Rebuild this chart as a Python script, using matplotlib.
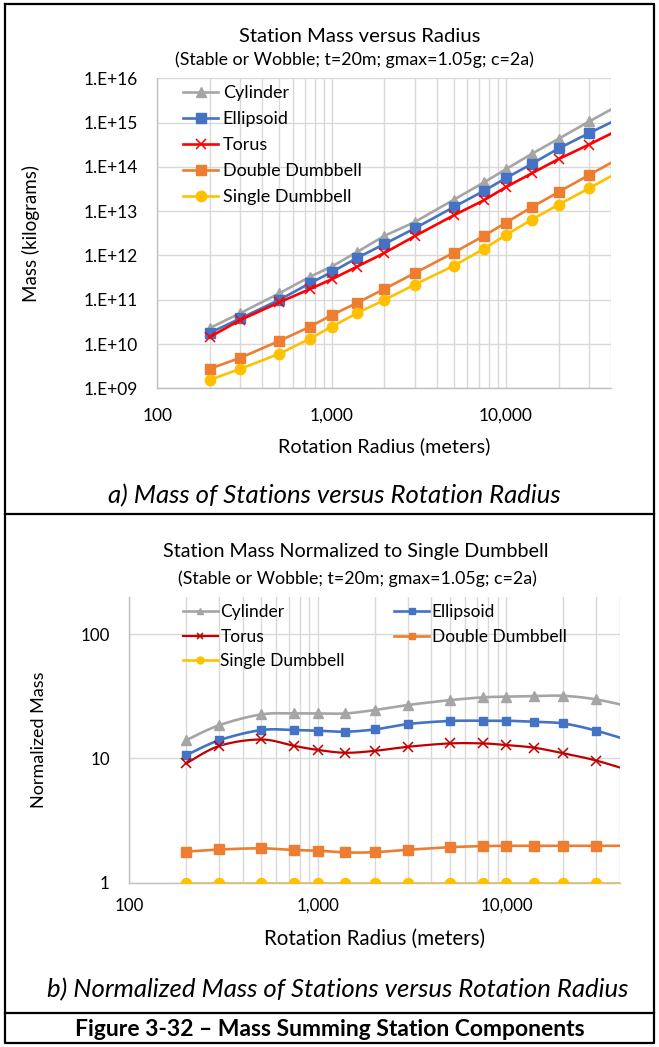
import numpy as np
import matplotlib
matplotlib.use("Agg")
import matplotlib.pyplot as plt
from matplotlib.ticker import FixedLocator, FuncFormatter, NullLocator
from matplotlib.lines import Line2D

# ---- data -------------------------------------------------------------
radius_m = [200, 300, 500, 750, 1000, 1400, 2000, 3000, 5000, 7500,
            10000, 14000, 20000, 30000, 50000]

series_names = ["Cylinder", "Ellipsoid", "Torus", "Double Dumbbell", "Single Dumbbell"]

mass_cylinder = [2.3e10, 5.0e10, 1.39e11, 3.3e11, 5.6e11, 1.2e12, 2.75e12, 5.7e12,
                 1.8e13, 4.5e13, 8.9e13, 1.95e14, 4.3e14, 1.06e15, 3.2e15]
mass_ellipsoid = [1.78e10, 3.8e10, 9.9e10, 2.35e11, 4.2e11, 8.8e11, 1.8e12, 4.1e12,
                  1.23e13, 2.9e13, 5.6e13, 1.16e14, 2.6e14, 5.8e14, 1.55e15]
mass_torus = [1.44e10, 3.5e10, 8.7e10, 1.74e11, 2.9e11, 5.6e11, 1.13e12, 2.74e12,
              8.0e12, 1.78e13, 3.5e13, 7.1e13, 1.5e14, 3.2e14, 8.7e14]
mass_double = [2.76e9, 4.9e9, 1.17e10, 2.45e10, 4.5e10, 8.5e10, 1.74e11, 4.0e11,
               1.15e12, 2.8e12, 5.5e12, 1.22e13, 2.7e13, 6.6e13, 2.0e14]
mass_single = [1.55e9, 2.76e9, 6.0e9, 1.32e10, 2.45e10, 5.0e10, 9.8e10, 2.2e11,
               5.8e11, 1.42e12, 2.9e12, 6.4e12, 1.4e13, 3.3e13, 1.0e14]

norm_cylinder = [14.0, 18.5, 22.6, 23.0, 23.0, 23.0, 24.5, 26.9, 29.4, 31.0,
                 31.4, 31.7, 31.9, 29.8, 25.2]
norm_ellipsoid = [10.6, 14.0, 16.9, 16.9, 16.7, 16.4, 17.1, 18.9, 20.0, 20.1,
                  20.1, 19.7, 19.1, 16.7, 13.2]
norm_torus = [9.1, 12.6, 14.2, 12.6, 11.7, 11.1, 11.5, 12.4, 13.2, 13.2,
              12.8, 12.2, 11.0, 9.6, 7.6]
norm_double = [1.78, 1.85, 1.89, 1.83, 1.81, 1.75, 1.76, 1.84, 1.93, 1.97,
               1.98, 1.98, 1.98, 1.98, 1.98]
norm_single = [1.0, 1.0, 1.0, 1.0, 1.0, 1.0, 1.0, 1.0, 1.0, 1.0,
               1.0, 1.0, 1.0, 1.0, 1.0]

x_major = [100, 1000, 10000]
x_minor = [200, 300, 400, 500, 600, 700, 800, 900,
           2000, 3000, 4000, 5000, 6000, 7000, 8000, 9000,
           20000, 30000, 40000]
mass_ticks = [1e9, 1e10, 1e11, 1e12, 1e13, 1e14, 1e15, 1e16]
norm_ticks = [1, 10, 100]

# ---- styling ----------------------------------------------------------
FONT = "Lato"
plt.rcParams["font.family"] = [FONT, "DejaVu Sans"]
GRID = "#D9D9D9"
AXIS = "#BFBFBF"

styles_top = [
    dict(color="#A5A5A5", marker="^", ms=7.5),
    dict(color="#4472C4", marker="s", ms=7.0),
    dict(color="#FF0000", marker="x", ms=7.0, mew=1.1),
    dict(color="#ED7D31", marker="s", ms=7.0),
    dict(color="#FFC000", marker="o", ms=7.5),
]
styles_bot = [
    dict(color="#A5A5A5", marker="^", ms=6.5),
    dict(color="#4472C4", marker="s", ms=6.0),
    dict(color="#C00000", marker="x", ms=6.5, mew=1.1),
    dict(color="#ED7D31", marker="s", ms=7.0),
    dict(color="#FFC000", marker="o", ms=7.2),
]

W, H = 659, 1047
fig = plt.figure(figsize=(W / 100, H / 100), dpi=100)
fig.patch.set_facecolor("white")


def fx(px):
    return px / W


def fy(py):
    return 1 - py / H


def axes_px(left, top, right, bottom):
    return fig.add_axes([fx(left), fy(bottom), (right - left) / W, (bottom - top) / H])


def smooth_loglog(x, y, n=24):
    """Bezier smoothing through the points in log-log space."""
    pts = np.column_stack([np.log10(x), np.log10(y)])
    P = np.vstack([pts[0], pts, pts[-1]])
    segs = []
    t = np.linspace(0, 1, n, endpoint=False)[:, None]
    for i in range(1, len(P) - 2):
        p0, p1, p2, p3 = P[i - 1], P[i], P[i + 1], P[i + 2]
        c1 = p1 + (p2 - p0) / 6
        c2 = p2 - (p3 - p1) / 6
        segs.append((1 - t) ** 3 * p1 + 3 * (1 - t) ** 2 * t * c1
                    + 3 * (1 - t) * t ** 2 * c2 + t ** 3 * p2)
    segs.append(pts[-1:])
    arr = np.vstack(segs)
    return 10 ** arr[:, 0], 10 ** arr[:, 1]


def style_axes(ax, tick_fs):
    ax.set_xscale("log")
    ax.set_yscale("log")
    ax.set_xlim(100, 40000)
    ax.xaxis.set_major_locator(FixedLocator(x_major))
    ax.xaxis.set_minor_locator(FixedLocator(x_minor))
    ax.xaxis.set_major_formatter(FuncFormatter(lambda v, _: f"{v:,.0f}"))
    ax.yaxis.set_minor_locator(NullLocator())
    ax.grid(which="both", axis="x", color=GRID, lw=1.0)
    ax.grid(which="major", axis="y", color=GRID, lw=1.0)
    ax.set_axisbelow(True)
    for s in ("top", "right"):
        ax.spines[s].set_visible(False)
    for s in ("left", "bottom"):
        ax.spines[s].set_color(AXIS)
        ax.spines[s].set_linewidth(1.0)
    ax.tick_params(which="both", length=0, labelsize=tick_fs, labelcolor="black")
    ax.set_facecolor("white")


# ---- chart a: absolute mass --------------------------------------------
T_L, T_T, T_R, T_B = 157.3, 78.3, 611, 388.3
ax1 = axes_px(T_L, T_T, T_R, T_B)
style_axes(ax1, 12.5)
ax1.set_ylim(1e9, 1e16)
ax1.yaxis.set_major_locator(FixedLocator(mass_ticks))
ax1.yaxis.set_major_formatter(FuncFormatter(lambda v, _: f"1.E+{int(round(np.log10(v))):02d}"))
ax1.tick_params(axis="y", pad=14)
ax1.tick_params(axis="x", pad=14)

top_series = [mass_cylinder, mass_ellipsoid, mass_torus, mass_double, mass_single]
for name, vals, st in zip(series_names, top_series, styles_top):
    ax1.plot(radius_m, vals, lw=1.9, label=name, mec=st["color"], mfc=st["color"],
             **st)

ax1.legend(loc="upper left", bbox_to_anchor=(fx(183), fy(85)), bbox_transform=fig.transFigure,
           frameon=False, fontsize=13, handlelength=1.95, handletextpad=0.25,
           labelspacing=0.56, borderaxespad=0, borderpad=0)

ax1.set_xlabel("Rotation Radius (meters)", fontsize=14.2)
ax1.xaxis.set_label_coords(0.5, -(437 - T_B) / (T_B - T_T))
ax1.set_ylabel("Mass (kilograms)", fontsize=13.5)
ax1.yaxis.set_label_coords(-(T_L - 40) / (T_R - T_L), 0.5)

fig.text(fx(360), fy(36), "Station Mass versus Radius", ha="center", va="center",
         fontsize=14.6, color="black")
fig.text(fx(354), fy(60), "(Stable or Wobble; t=20m; gmax=1.05g; c=2a)", ha="center",
         va="center", fontsize=12.8, color="black")

# ---- chart b: normalized mass -----------------------------------------
B_L, B_T, B_R, B_B = 129.3, 596.7, 620, 882.7
ax2 = axes_px(B_L, B_T, B_R, B_B)
style_axes(ax2, 12.2)
ax2.set_ylim(1, 200)
ax2.yaxis.set_major_locator(FixedLocator(norm_ticks))
ax2.yaxis.set_major_formatter(FuncFormatter(lambda v, _: f"{v:g}"))
ax2.tick_params(axis="y", pad=14)
ax2.tick_params(axis="x", pad=11)

bot_series = [norm_cylinder, norm_ellipsoid, norm_torus, norm_double, norm_single]
handles = []
for name, vals, st in zip(series_names, bot_series, styles_bot):
    sx, sy = smooth_loglog(radius_m, vals)
    lw = 1.6 if st["marker"] == "x" else 1.9
    ax2.plot(sx, sy, color=st["color"], lw=lw, zorder=2)
    ax2.plot(radius_m, vals, linestyle="none", mec=st["color"], mfc=st["color"], zorder=3,
             **st)
    handles.append(Line2D([], [], color=st["color"], lw=lw, marker=st["marker"],
                          ms=st["ms"] * 0.7, mec=st["color"], mfc=st["color"],
                          mew=st.get("mew", 1.0)))

order = [0, 2, 4, 1, 3]
ax2.legend([handles[i] for i in order], [series_names[i] for i in order], ncol=2,
           loc="upper left", bbox_to_anchor=(fx(183), fy(604)), bbox_transform=fig.transFigure,
           frameon=False, fontsize=12.5, handlelength=2.0, handletextpad=0.15,
           labelspacing=0.5, columnspacing=2.85, borderaxespad=0, borderpad=0)

ax2.set_xlabel("Rotation Radius (meters)", fontsize=14.8)
ax2.xaxis.set_label_coords(0.5, -(929 - B_B) / (B_B - B_T))
ax2.set_ylabel("Normalized Mass", fontsize=13)
ax2.yaxis.set_label_coords(-(B_L - 47) / (B_R - B_L), 0.5)

fig.text(fx(356), fy(552), "Station Mass Normalized to Single Dumbbell", ha="center",
         va="center", fontsize=14.2, color="black")
fig.text(fx(357), fy(579), "(Stable or Wobble; t=20m; gmax=1.05g; c=2a)", ha="center",
         va="center", fontsize=12.8, color="black")

# ---- captions and table frame -------------------------------------------
fig.text(fx(334), fy(496), "a) Mass of Stations versus Rotation Radius", ha="center",
         va="center", fontsize=18.5, style="italic")
fig.text(fx(338), fy(990), "b) Normalized Mass of Stations versus Rotation Radius",
         ha="center", va="center", fontsize=18.5, style="italic")
fig.text(fx(330), fy(1030), "Figure 3-32 \u2013 Mass Summing Station Components",
         ha="center", va="center", fontsize=16.5, fontweight="bold")

frame_kw = dict(color="black", lw=1.6, transform=fig.transFigure)
FL, FR, FT, FB = 5, 654, 4, 1043
fig.add_artist(Line2D([fx(FL), fx(FR), fx(FR), fx(FL), fx(FL)],
                      [fy(FT), fy(FT), fy(FB), fy(FB), fy(FT)], **frame_kw))
fig.add_artist(Line2D([fx(FL), fx(FR)], [fy(514), fy(514)], **frame_kw))
fig.add_artist(Line2D([fx(FL), fx(FR)], [fy(1013), fy(1013)], **frame_kw))

fig.savefig("out.png", dpi=100, facecolor="white")
